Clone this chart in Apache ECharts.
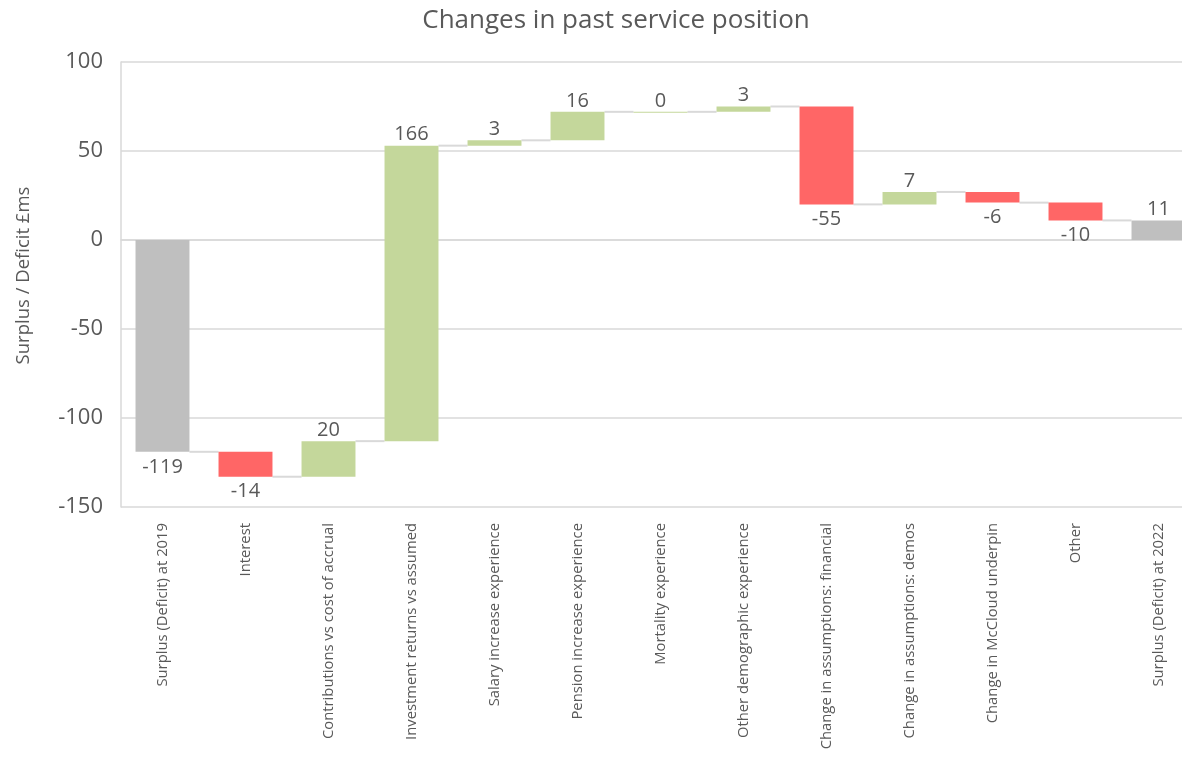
<!DOCTYPE html>
<html>
<head>
<meta charset="utf-8">
<script src="https://cdn.jsdelivr.net/npm/echarts@6/dist/echarts.min.js"></script>
<style>
  html, body { margin: 0; padding: 0; background: #fff; }
  #main { width: 1182px; height: 757px; }
</style>
</head>
<body>
<div id="main"></div>
<script>
var categories = [
  'Surplus (Deficit) at 2019',
  'Interest',
  'Contributions vs cost of accrual',
  'Investment returns vs assumed',
  'Salary increase experience',
  'Pension increase experience',
  'Mortality experience',
  'Other demographic experience',
  'Change in assumptions: financial',
  'Change in assumptions: demos',
  'Change in McCloud underpin',
  'Other',
  'Surplus (Deficit) at 2022'
];
// first and last are totals, the rest are changes
var values = [-119, -14, 20, 166, 3, 16, 0, 3, -55, 7, -6, -10, 11];
var isTotal = [true, false, false, false, false, false, false, false, false, false, false, false, true];
var yTicks = [-150, -100, -50, 0, 50, 100];

var colTotal = '#bfbfbf', colUp = '#c4d79b', colDown = '#ff6666';
var textCol = '#595959';

// start / end level of every bar
var starts = [], ends = [];
var run = 0;
for (var i = 0; i < values.length; i++) {
  if (isTotal[i]) {
    starts.push(0);
    ends.push(values[i]);
    run = values[i];
  } else {
    starts.push(run);
    run = run + values[i];
    ends.push(run);
  }
}

var seriesData = [];
for (var i = 0; i < values.length; i++) {
  seriesData.push([i, starts[i], ends[i], values[i]]);
}

var chart = echarts.init(document.getElementById('main'));

function renderBar(params, api) {
  var idx = api.value(0);
  var s = api.value(1), e = api.value(2), v = api.value(3);
  var bw = api.size([1, 0])[0] * 0.65;
  var p1 = api.coord([idx, s]);
  var p2 = api.coord([idx, e]);
  var top = Math.min(p1[1], p2[1]), bot = Math.max(p1[1], p2[1]);
  var color = isTotal[idx] ? colTotal : (v >= 0 ? colUp : colDown);
  var children = [];
  // connector to the next bar
  if (idx < values.length - 1) {
    var n = api.coord([idx + 1, e]);
    children.push({
      type: 'line',
      shape: { x1: p2[0] + bw / 2, y1: p2[1], x2: n[0] - bw / 2, y2: p2[1] },
      style: { stroke: '#d9d9d9', lineWidth: 2 }
    });
  }
  children.push({
    type: 'rect',
    shape: { x: p1[0] - bw / 2, y: top, width: bw, height: Math.max(bot - top, 1) },
    style: { fill: color }
  });
  var up = v >= 0;
  children.push({
    type: 'text',
    style: {
      text: String(v),
      x: p1[0],
      y: up ? top - 1 : bot + 5,
      align: 'center',
      verticalAlign: up ? 'bottom' : 'top',
      fill: textCol,
      fontSize: 20,
      fontFamily: 'Open Sans'
    }
  });
  return { type: 'group', children: children };
}

var option = {
  backgroundColor: '#fff',
  animation: false,
  textStyle: { fontFamily: 'Open Sans' },
  title: {
    text: 'Changes in past service position',
    left: 611,
    top: 3,
    textAlign: 'center',
    textStyle: { fontSize: 26, fontWeight: 'normal', color: textCol, fontFamily: 'Open Sans' }
  },
  grid: { left: 121, right: -18, top: 62, bottom: 250, containLabel: false, outerBoundsMode: 'none' },
  xAxis: {
    type: 'category',
    data: categories,
    axisLine: { show: true, lineStyle: { color: '#d9d9d9', width: 1.5 } },
    axisTick: { show: false },
    axisLabel: { rotate: 90, interval: 0, margin: 16, fontSize: 14.8, color: textCol, fontFamily: 'Open Sans' }
  },
  yAxis: {
    type: 'value',
    min: yTicks[0],
    max: yTicks[yTicks.length - 1],
    interval: 50,
    name: 'Surplus / Deficit £ms',
    nameLocation: 'middle',
    nameGap: 88,
    nameTextStyle: { fontSize: 18.5, color: textCol, fontFamily: 'Open Sans', padding: [0, 0, 0, 18] },
    axisLine: { show: true, lineStyle: { color: '#d9d9d9', width: 1.5 } },
    axisTick: { show: false },
    axisLabel: { fontSize: 22, color: textCol, margin: 18, fontFamily: 'Open Sans' },
    splitLine: { lineStyle: { color: '#d9d9d9', width: 1.5 } }
  },
  series: [{
    type: 'custom',
    renderItem: renderBar,
    encode: { x: 0, y: [1, 2] },
    data: seriesData
  }]
};
chart.setOption(option);
</script>
</body>
</html>
